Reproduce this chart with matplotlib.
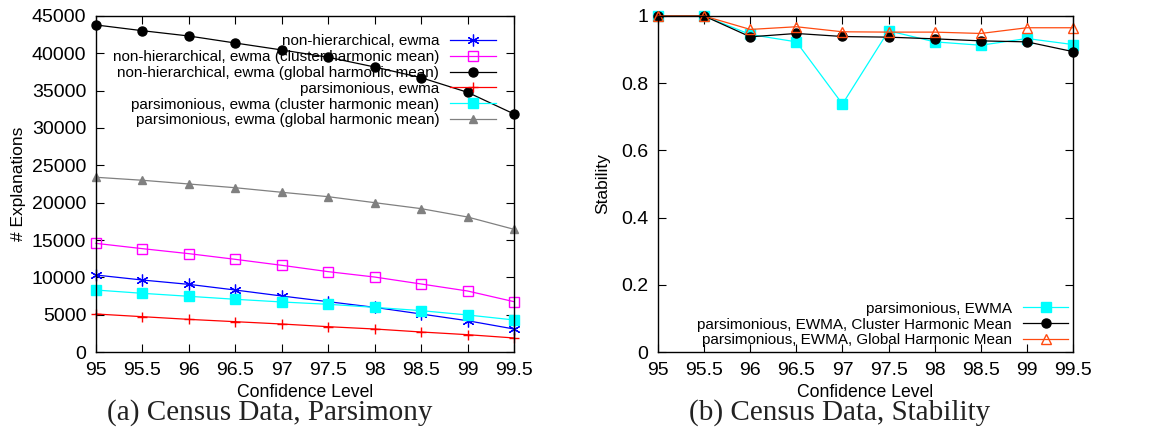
import matplotlib
matplotlib.use("Agg")
from matplotlib import pyplot as plt
import numpy as np

plt.rcParams['font.family'] = ['Liberation Sans', 'DejaVu Sans']

conf = [95, 95.5, 96, 96.5, 97, 97.5, 98, 98.5, 99, 99.5]
conf_labels = ['95', '95.5', '96', '96.5', '97', '97.5', '98', '98.5', '99', '99.5']

# parsimony: number of explanations
nonhier_ewma = [10310, 9640, 9060, 8300, 7500, 6740, 5980, 5090, 4190, 3080]
nonhier_cluster = [14550, 13840, 13170, 12410, 11610, 10760, 10040, 9110, 8170, 6740]
nonhier_global = [43800, 43030, 42320, 41380, 40450, 39470, 38170, 36740, 34780, 31880]
pars_ewma = [5090, 4730, 4370, 4060, 3750, 3390, 3080, 2680, 2320, 1880]
pars_cluster = [8300, 7860, 7460, 7060, 6700, 6390, 5980, 5540, 4960, 4290]
pars_global = [23400, 23000, 22500, 22000, 21390, 20800, 20000, 19200, 18080, 16430]

# stability
stab_ewma = [1.0, 1.0, 0.945, 0.923, 0.738, 0.956, 0.923, 0.913, 0.933, 0.915]
stab_cluster = [1.0, 1.0, 0.938, 0.948, 0.939, 0.937, 0.932, 0.926, 0.923, 0.894]
stab_global = [1.0, 1.0, 0.960, 0.968, 0.953, 0.952, 0.952, 0.948, 0.965, 0.965]

fig = plt.figure(figsize=(11.69, 4.37), dpi=100)
ax1 = fig.add_axes([0.0821, 0.1945, 0.3576, 0.7689])
ax2 = fig.add_axes([0.5629, 0.1945, 0.3550, 0.7689])

lw = 0.9
ax1.plot(conf, nonhier_ewma, '-', color='#0000ff', marker=(6, 2, 0), ms=8.5, mew=0.9, lw=lw,
         label='non-hierarchical, ewma')
ax1.plot(conf, nonhier_cluster, '-', color='#ff00ff', marker='s', ms=6.5, mfc='none', mew=1.0,
         lw=lw, label='non-hierarchical, ewma (cluster harmonic mean)')
ax1.plot(conf, nonhier_global, '-', color='black', marker='o', ms=6.5, lw=lw,
         label='non-hierarchical, ewma (global harmonic mean)')
ax1.plot(conf, pars_ewma, '-', color='#ff0000', marker='+', ms=7.5, mew=1.0, lw=lw,
         label='parsimonious, ewma')
ax1.plot(conf, pars_cluster, '-', color='#00ffff', marker='s', ms=6.5, lw=lw,
         label='parsimonious, ewma (cluster harmonic mean)')
ax1.plot(conf, pars_global, '-', color='#808080', marker='^', ms=5.5, lw=lw,
         label='parsimonious, ewma (global harmonic mean)')

ax1.set_xlim(95, 99.5)
ax1.set_ylim(0, 45000)
ax1.set_yticks(np.arange(0, 45001, 5000))
ax1.set_ylabel('# Explanations', fontsize=12.5, labelpad=4)
ax1.legend(loc='upper right', markerfirst=False, frameon=False, fontsize=11,
           handlelength=3.0, handletextpad=0.7, labelspacing=0.12,
           borderaxespad=1.0, borderpad=0.2)

ax2.plot(conf, stab_ewma, '-', color='#00ffff', marker='s', ms=6.5, lw=lw,
         label='parsimonious, EWMA')
ax2.plot(conf, stab_cluster, '-', color='black', marker='o', ms=6.5, lw=lw,
         label='parsimonious, EWMA, Cluster Harmonic Mean')
ax2.plot(conf, stab_global, '-', color='#ff4a10', marker='^', ms=6.5, mfc='none', mew=1.0,
         lw=lw, label='parsimonious, EWMA, Global Harmonic Mean')
ax2.set_xlim(95, 99.5)
ax2.set_ylim(0, 1)
ax2.set_yticks([0, 0.2, 0.4, 0.6, 0.8, 1])
ax2.set_yticklabels(['0', '0.2', '0.4', '0.6', '0.8', '1'])
ax2.set_ylabel('Stability', fontsize=12.5, labelpad=8)
ax2.legend(loc='lower right', markerfirst=False, frameon=False, fontsize=11,
           handlelength=3.0, handletextpad=0.7, labelspacing=0.12,
           borderaxespad=0.1, borderpad=0.2)

for ax in (ax1, ax2):
    ax.set_xticks(conf)
    ax.set_xticklabels(conf_labels)
    ax.set_xlabel('Confidence Level', fontsize=12.7, labelpad=4)
    ax.tick_params(direction='in', length=6, width=0.8, top=True, right=True,
                   labelsize=14, pad=7)
    for sp in ax.spines.values():
        sp.set_linewidth(1.0)
    for m in ax.lines:
        m.set_clip_on(False)

fig.text(270 / 1169, 1 - 413 / 437, '(a) Census Data, Parsimony', family='Liberation Serif',
         fontsize=21, ha='center', va='center', color='#222222')
fig.text(840 / 1169, 1 - 413 / 437, '(b) Census Data, Stability', family='Liberation Serif',
         fontsize=21, ha='center', va='center', color='#222222')

fig.savefig('out.png', dpi=100)
